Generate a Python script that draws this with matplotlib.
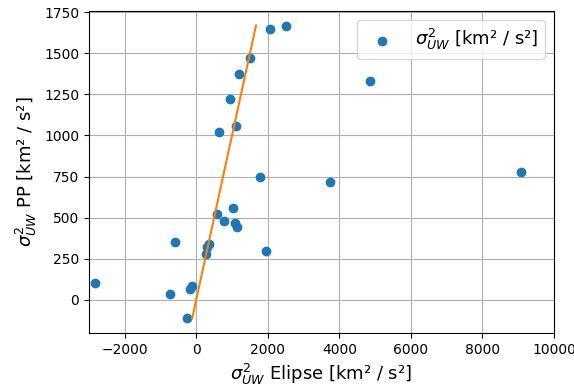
import numpy as np
import matplotlib
matplotlib.use('Agg')
import matplotlib.pyplot as plt

# variance from ellipse fit vs. from PP
elipse = np.array([-2830, -730, -590, -250, -170, -120, 270, 300, 350, 580, 640,
                   780, 930, 1040, 1070, 1110, 1150, 1200, 1490, 1770, 1940,
                   2070, 2520, 3730, 4850, 9080])
pp = np.array([100, 35, 350, -115, 65, 85, 275, 320, 340, 520, 1020,
               480, 1225, 555, 465, 1060, 440, 1375, 1470, 745, 295,
               1650, 1670, 715, 1335, 780])

fig = plt.figure(figsize=(5.74, 3.9), dpi=100)
ax = fig.add_axes([0.155, 0.146, 0.81, 0.826])

ax.scatter(elipse, pp, label=r'$\sigma^2_{UW}$ [km² / s²]')
ax.plot(np.sort(pp), np.sort(pp), color='C1')

ax.set_xlim(-3000, 10000)
ax.set_xlabel(r'$\sigma^2_{UW}$ Elipse [km² / s²]', fontsize=13)
ax.set_ylabel(r'$\sigma^2_{UW}$ PP [km² / s²]', fontsize=13)
ax.grid(True)
ax.set_axisbelow(True)
ax.legend(loc='upper right', fontsize=13)

plt.savefig('out.png', dpi=100)
